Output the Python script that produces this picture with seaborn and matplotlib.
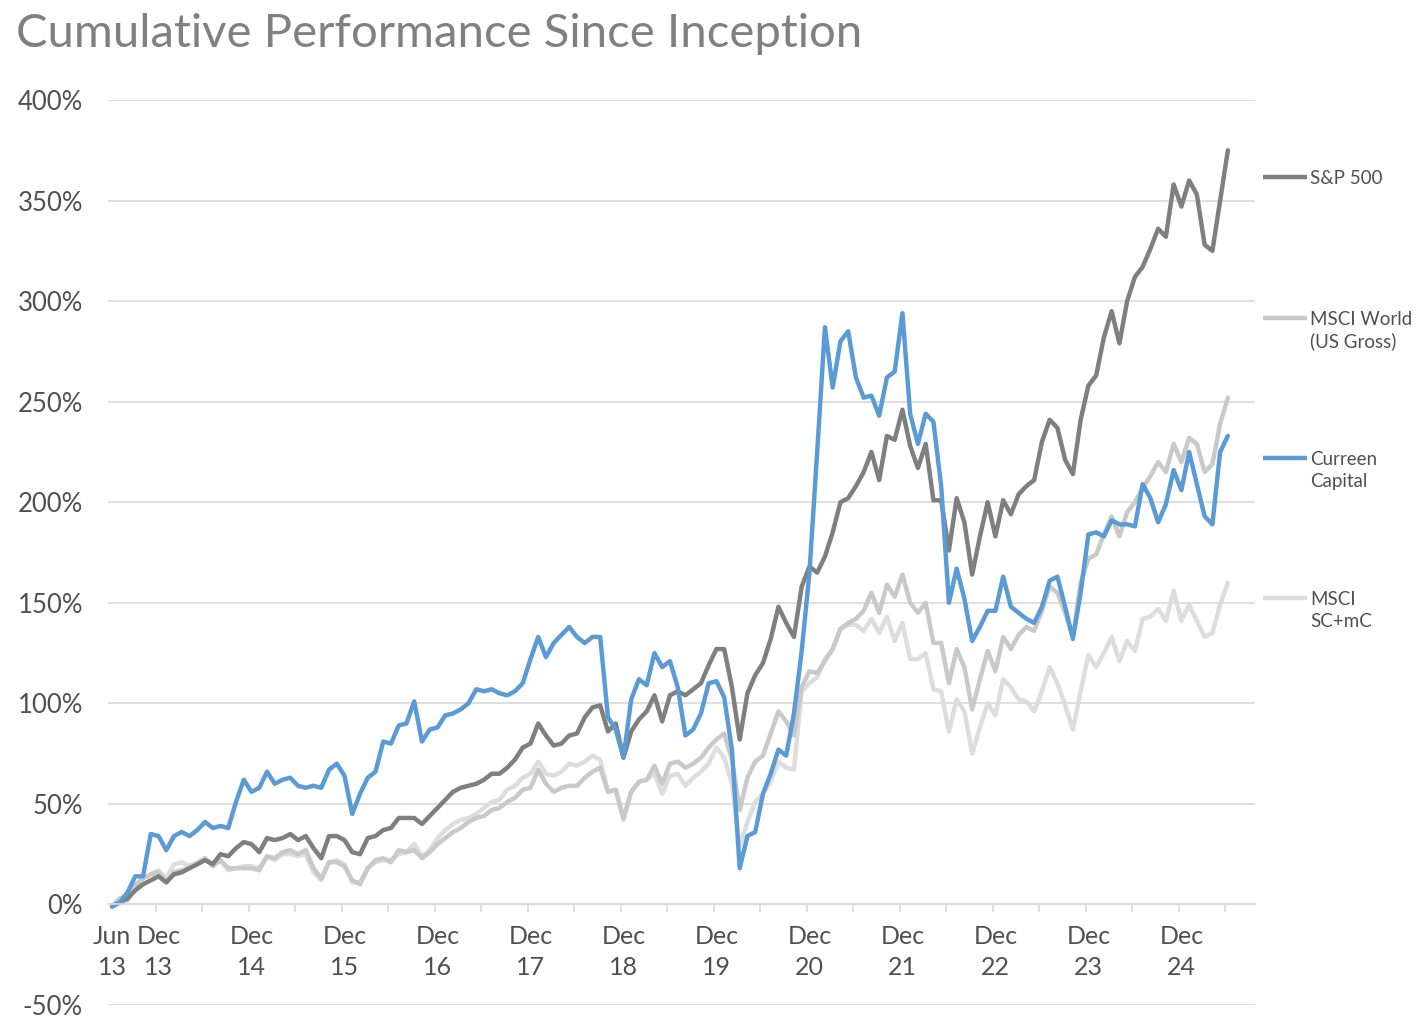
import matplotlib
matplotlib.use("Agg")
import matplotlib.pyplot as plt
import seaborn as sns
import pandas as pd
from matplotlib.lines import Line2D
from matplotlib.ticker import FuncFormatter

# ---------------- data (monthly, Jun 2013 .. Jun 2025) ----------------
months = list(range(145))

sp500 = [
    -1, 1, 3, 7, 10, 12, 14, 11, 15, 16,
    18, 20, 22, 20, 25, 24, 28, 31, 30, 26,
    33, 32, 33, 35, 32, 34, 28, 23, 34, 34,
    32, 26, 25, 33, 34, 37, 38, 43, 43, 43,
    40, 44, 48, 52, 56, 58, 59, 60, 62, 65,
    65, 68, 72, 78, 80, 90, 84, 79, 80, 84,
    85, 93, 98, 99, 86, 90, 73, 86, 92, 96,
    104, 91, 104, 106, 104, 107, 110, 119, 127, 127,
    108, 82, 105, 114, 120, 132, 148, 140, 133, 158,
    168, 165, 173, 185, 200, 202, 208, 215, 225, 211,
    233, 231, 246, 228, 217, 229, 201, 201, 176, 202,
    190, 164, 183, 200, 183, 201, 194, 204, 208, 211,
    230, 241, 237, 221, 214, 241, 258, 263, 282, 295,
    279, 300, 312, 317, 326, 336, 332, 358, 347, 360,
    353, 328, 325, 350, 375,
]

msci_world = [
    -1, 3, 2, 9, 13, 15, 16, 11, 16, 17,
    18, 20, 23, 19, 22, 18, 18, 18, 18, 17,
    24, 23, 26, 27, 25, 27, 18, 13, 21, 21,
    19, 12, 10, 18, 22, 23, 21, 27, 26, 27,
    23, 26, 30, 33, 36, 38, 41, 43, 44, 47,
    48, 51, 53, 57, 58, 67, 60, 56, 58, 59,
    59, 63, 66, 68, 56, 57, 43, 56, 61, 62,
    69, 60, 70, 71, 68, 70, 73, 78, 82, 85,
    72, 47, 63, 71, 74, 85, 96, 91, 84, 108,
    116, 115, 121, 127, 137, 140, 142, 146, 155, 145,
    159, 153, 164, 150, 145, 150, 130, 130, 110, 127,
    118, 97, 112, 126, 116, 133, 127, 134, 138, 136,
    146, 158, 155, 145, 133, 160, 172, 174, 184, 193,
    183, 195, 200, 207, 213, 220, 215, 229, 220, 232,
    229, 215, 219, 239, 252,
]

curreen = [
    -1, 1, 6, 14, 14, 35, 34, 27, 34, 36,
    34, 37, 41, 38, 39, 38, 51, 62, 56, 58,
    66, 60, 62, 63, 59, 58, 59, 58, 67, 70,
    64, 45, 55, 63, 66, 81, 80, 89, 90, 101,
    81, 87, 88, 94, 95, 97, 100, 107, 106, 107,
    105, 104, 106, 110, 122, 133, 123, 130, 134, 138,
    133, 130, 133, 133, 93, 87, 73, 102, 112, 109,
    125, 118, 121, 108, 84, 87, 95, 110, 111, 103,
    77, 18, 34, 36, 55, 65, 77, 74, 95, 126,
    165, 225, 287, 257, 280, 285, 262, 252, 253, 243,
    262, 265, 294, 244, 229, 244, 240, 208, 150, 167,
    152, 131, 138, 146, 146, 163, 148, 145, 142, 140,
    148, 161, 163, 148, 132, 155, 184, 185, 183, 191,
    189, 189, 188, 209, 202, 190, 199, 216, 206, 225,
    209, 193, 189, 225, 233,
]

msci_scmc = [
    -1, 3, 5, 10, 13, 15, 17, 13, 20, 21,
    19, 21, 23, 20, 22, 17, 18, 19, 19, 18,
    24, 22, 25, 25, 24, 25, 16, 12, 21, 22,
    20, 11, 11, 18, 21, 22, 22, 25, 26, 30,
    24, 27, 33, 37, 40, 42, 43, 45, 48, 51,
    52, 57, 59, 63, 65, 71, 65, 64, 66, 70,
    69, 71, 74, 72, 56, 57, 42, 56, 61, 62,
    65, 55, 64, 65, 59, 63, 66, 70, 78, 73,
    60, 29, 41, 51, 55, 61, 71, 68, 67, 106,
    110, 113, 122, 127, 137, 139, 139, 136, 142, 135,
    143, 131, 140, 122, 122, 125, 107, 106, 86, 102,
    96, 75, 88, 100, 94, 112, 108, 102, 101, 96,
    106, 118, 110, 99, 87, 106, 124, 118, 125, 133,
    121, 131, 126, 142, 143, 147, 141, 156, 141, 149,
    141, 133, 135, 149, 160,
]

series_keys = ["S&P 500", "MSCI World", "Curreen Capital", "MSCI SC+mC"]
legend_labels = ["S&P 500", "MSCI World\n(US Gross)", "Curreen\nCapital", "MSCI\nSC+mC"]
series_colors = ["#7f7f7f", "#c9c9c9", "#5b9bd5", "#dddddd"]

x_tick_pos = [0, 6, 18, 30, 42, 54, 66, 78, 90, 102, 114, 126, 138]
x_tick_labels = ["Jun\n13", "Dec\n13", "Dec\n14", "Dec\n15", "Dec\n16", "Dec\n17",
                 "Dec\n18", "Dec\n19", "Dec\n20", "Dec\n21", "Dec\n22", "Dec\n23", "Dec\n24"]
y_ticks = [-50, 0, 50, 100, 150, 200, 250, 300, 350, 400]
title = "Cumulative Performance Since Inception"

# ---------------- build frame ----------------
values = {"S&P 500": sp500, "MSCI World": msci_world,
          "Curreen Capital": curreen, "MSCI SC+mC": msci_scmc}
df = pd.concat([pd.DataFrame({"month": months, "value": v, "series": k})
                for k, v in values.items()], ignore_index=True)

sns.set_theme(style="white")
plt.rcParams["font.family"] = ["Lato", "DejaVu Sans"]

W, H = 1422, 1033
fig = plt.figure(figsize=(W / 100, H / 100), dpi=100)
ax = fig.add_axes([108 / W, (H - 1005) / H, (1255 - 108) / W, (1005 - 100) / H])

palette = dict(zip(series_keys, series_colors))
draw_order = ["MSCI SC+mC", "MSCI World", "S&P 500", "Curreen Capital"]
sns.lineplot(data=df, x="month", y="value", hue="series", hue_order=draw_order,
             palette=palette, estimator=None, sort=False, legend=False,
             linewidth=3.2, ax=ax)
for ln in ax.get_lines():
    ln.set_solid_joinstyle("round")
    ln.set_solid_capstyle("round")

ax.set_xlim(-0.52, 147.5)
ax.set_ylim(-50, 400)
ax.set_xlabel("")
ax.set_ylabel("")

grid_c = "#d9d9d9"
text_c = "#505050"
ax.set_yticks(y_ticks)
ax.yaxis.set_major_formatter(FuncFormatter(lambda v, p: f"{int(v)}%"))
ax.yaxis.grid(True, color=grid_c, linewidth=1.2)
ax.xaxis.grid(False)
ax.set_axisbelow(True)

for s in ["left", "right", "top"]:
    ax.spines[s].set_visible(False)
ax.spines["bottom"].set_position(("data", 0))
ax.spines["bottom"].set_color(grid_c)
ax.spines["bottom"].set_linewidth(1.2)

ax.set_xticks(x_tick_pos)
ax.set_xticklabels(x_tick_labels, linespacing=1.4)
ax.set_xticks([5.65 + 6 * k for k in range(24)], minor=True)
ax.tick_params(axis="x", which="major", length=0, pad=15, labelsize=18,
               labelcolor=text_c)
ax.tick_params(axis="x", which="minor", bottom=True, length=5.5, width=1.2,
               color=grid_c, direction="out")
ax.tick_params(axis="y", which="major", length=0, pad=18, labelsize=18.5,
               labelcolor=text_c)

# ---------------- legend (right side) ----------------
legend_y = [177, 318, 458, 598]
for lab, col, yp in zip(legend_labels, series_colors, legend_y):
    yf = 1 - yp / H
    fig.add_artist(Line2D([1263 / W, 1307 / W], [yf, yf], color=col, linewidth=3.2,
                          solid_capstyle="butt", transform=fig.transFigure))
    for i, part in enumerate(lab.split("\n")):
        fig.text(1310 / W, 1 - (yp + 22 * i) / H, part, ha="left",
                 va="center_baseline", fontsize=13.5, color=text_c)

fig.text(16 / W, 1 - 47 / H, title, ha="left", va="baseline", fontsize=34,
         color="#808080")

fig.savefig("out.png", dpi=100)
